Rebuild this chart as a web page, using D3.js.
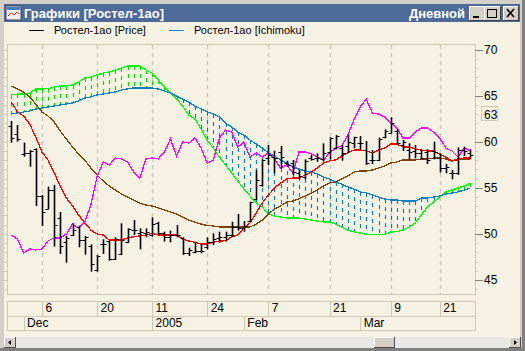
<!DOCTYPE html>
<html>
<head>
<meta charset="utf-8">
<script src="https://cdn.jsdelivr.net/npm/d3@7"></script>
<style>
html, body { margin: 0; padding: 0; background: #d4d0c8; overflow: hidden; }
text { font-family: "Liberation Sans", Arial, sans-serif; }
</style>
</head>
<body>
<div id="chart"></div>
<script>
const opens = [61.70,60.80,58.63,58.81,59.17,54.11,52.67,54.76,51.69,49.16,49.88,50.79,49.34,48.69,46.09,48.91,49.27,47.28,47.82,49.16,
  50.42,50.06,50.06,49.88,51.14,50.06,49.70,49.88,49.52,47.96,48.07,48.14,48.61,49.16,49.52,49.63,49.88,50.78,50.60,
  51.40,53.75,55.30,58.19,58.37,58.92,57.65,57.72,56.57,56.20,58.19,58.19,58.08,58.92,59.28,59.28,59.53,59.89,59.82,
  59.10,58.02,58.02,60.48,60.91,61.20,59.65,59.10,59.03,58.81,58.92,58.99,58.20,57.11,56.65,56.57,59.10,58.74];
const highs = [62.25,61.81,59.90,59.10,59.28,54.22,55.13,55.31,52.38,49.78,51.15,50.90,49.78,48.87,47.72,49.41,49.27,49.63,51.15,50.61,
  51.50,50.60,50.60,51.79,51.32,50.24,50.35,50.96,49.63,48.50,49.16,48.90,49.63,50.06,50.24,50.24,51.32,52.16,51.40,
  53.49,56.93,58.08,59.64,59.02,59.53,57.94,58.01,56.93,58.08,58.55,58.74,59.82,60.47,60.72,59.64,60.72,60.54,60.61,
  60.08,59.10,60.44,61.34,62.65,61.34,60.19,59.83,59.65,59.18,59.18,60.01,58.74,57.58,56.93,59.39,59.46,59.18];
const lows = [59.90,60.01,58.38,57.29,53.03,50.86,52.67,48.62,47.82,46.88,49.78,48.55,47.75,45.91,45.91,47.82,47.10,47.17,47.71,49.05,
  49.88,48.32,49.63,49.70,49.88,49.16,49.08,49.63,47.71,47.60,47.89,47.89,48.32,48.79,49.05,49.16,49.70,50.35,50.24,
  51.32,53.67,55.12,57.47,56.57,57.11,57.29,56.38,55.92,55.92,57.94,57.83,57.83,58.08,59.17,57.94,58.81,59.28,59.10,
  57.48,57.58,57.91,60.37,60.91,59.65,58.99,58.09,58.20,58.02,57.58,58.09,56.65,56.57,55.92,56.39,58.45,58.09];
const closes = [60.37,60.26,58.81,58.99,54.11,52.41,54.76,50.97,48.69,49.52,50.43,49.34,49.70,46.70,47.61,48.91,47.24,49.45,49.34,50.50,
  50.42,50.24,50.24,51.07,50.06,49.70,49.88,49.88,47.96,48.25,48.14,48.14,49.16,49.41,49.70,49.88,50.71,50.60,50.85,
  53.49,55.84,58.01,58.55,58.19,58.37,57.47,56.75,56.28,57.94,58.08,58.19,58.74,60.36,60.61,58.74,60.00,60.47,59.82,
  57.66,58.02,60.26,61.16,62.00,59.83,60.00,58.92,58.81,58.20,58.02,58.92,57.11,57.22,56.57,59.10,59.03,58.56];

const redLine = [64.31,63.22,62.79,61.92,60.51,58.88,58.02,56.61,55.20,53.90,53.03,52.05,51.18,50.42,49.99,49.88,49.34,49.34,49.34,49.56,
  49.70,49.77,49.88,50.07,49.88,49.88,49.88,49.88,49.45,49.23,49.09,48.90,48.90,49.09,49.23,49.26,49.70,49.88,50.64,
  51.18,52.27,53.35,54.22,54.98,55.52,55.96,56.06,56.06,56.39,56.71,57.15,57.69,57.91,58.02,58.45,58.78,59.10,59.10,
  59.00,58.78,59.10,59.32,59.75,59.75,59.43,59.43,59.21,59.10,59.00,59.00,58.67,58.34,57.91,58.13,58.23,58.23];
const brownLine = [66.04,65.72,65.39,64.85,64.09,63.22,62.79,62.14,61.16,60.29,59.43,58.67,58.02,57.15,56.39,55.74,55.20,54.76,54.33,54.00,
  53.68,53.35,53.13,53.03,52.81,52.59,52.38,52.16,51.83,51.51,51.29,51.07,50.91,50.86,50.75,50.75,50.75,50.75,50.75,
  50.75,51.07,51.51,52.16,52.70,53.03,53.46,53.57,53.79,54.11,54.44,54.76,55.20,55.52,55.63,55.96,56.28,56.71,56.82,
  56.82,56.93,57.15,57.37,57.69,57.80,58.02,58.02,58.02,58.13,58.13,58.23,58.23,58.13,57.91,58.02,58.13,58.13];
const magentaLine = [49.88,49.45,47.93,48.36,48.26,48.36,49.23,49.56,49.56,49.99,51.07,50.64,51.29,53.14,56.17,57.80,57.47,58.23,58.13,57.80,
  56.71,56.06,58.13,58.23,58.13,58.88,60.29,58.45,59.97,59.86,60.40,59.32,57.69,58.02,60.40,61.27,61.05,59.43,59.97,
  58.34,58.78,58.34,58.78,58.13,57.15,57.47,56.61,58.88,58.88,58.67,58.34,58.02,58.78,59.32,59.54,60.73,62.36,63.77,
  64.63,63.11,63.00,62.68,62.03,61.49,60.40,60.40,61.05,61.49,61.49,61.05,60.40,59.32,59.00,58.34,59.32,59.00];
const spanA = [65.07,65.17,65.17,65.28,65.72,65.72,65.75,65.93,66.04,66.04,66.15,66.48,66.91,67.02,67.24,67.45,67.56,67.78,68.00,68.21,
  68.21,68.21,67.78,67.45,66.69,65.93,65.28,64.63,63.87,62.90,62.46,61.38,60.19,59.32,58.34,57.47,56.61,55.74,54.87,
  54.11,53.35,52.92,52.16,51.94,51.83,51.73,51.73,51.73,51.62,51.51,51.40,51.29,51.29,51.07,50.75,50.42,50.21,50.10,
  49.94,49.94,49.94,49.94,50.21,50.24,50.42,50.75,51.18,52.05,52.92,53.46,54.00,54.55,54.76,54.98,55.20,55.52];
const spanB = [63.01,63.11,63.22,63.33,63.55,63.66,63.77,63.87,63.98,64.09,64.20,64.42,64.74,64.85,65.07,65.17,65.28,65.39,65.61,65.72,
  65.83,65.83,65.83,65.83,65.72,65.50,65.28,64.96,64.63,64.31,63.87,63.55,63.22,63.01,62.68,62.03,61.60,61.05,60.73,
  60.19,59.75,59.32,58.78,58.45,58.02,57.69,57.26,57.04,56.82,56.71,56.50,56.17,55.96,55.63,55.41,55.09,54.87,54.55,
  54.44,54.22,54.00,53.79,53.68,53.68,53.57,53.57,53.57,53.90,53.90,54.00,54.11,54.33,54.44,54.55,54.76,54.98];

const priceTicks = [45, 50, 55, 60, 65, 70];
const minorTicks = d3.range(44, 71);
const lastPrice = 63;
const dayTicks = [5, 14, 23, 32, 42, 52, 62, 70];
const dayLabels = ["6", "20", "11", "24", "7", "21", "9", "21"];
const monthStarts = [2, 23, 38, 57];
const monthLabels = ["Dec", "2005", "Feb", "Mar"];
const legendNames = ["Ростел-1ао [Price]", "Ростел-1ао [Ichimoku]"];

const width = 525, height = 351;
const paper = "#f5f2e4", rule = "#cdc9b4", grid = "#c8c5b8";
const plotLeft = 7, plotRight = 475, plotTop = 44, plotBottom = 294;

const svg = d3.select("#chart").append("svg")
  .attr("width", width).attr("height", height)
  .style("display", "block");

const xScale = d3.scaleLinear().domain([0, 75]).range([11.3, 470.3]);
const yScale = d3.scaleLinear().domain([45, 70]).range([280, 49.5]);
const px = v => Math.round(v) + 0.5;

// window frame
svg.append("rect").attr("width", width).attr("height", height).attr("fill", "#d4d0c8");
svg.append("rect").attr("x", 4).attr("y", 4).attr("width", 516).attr("height", 343).attr("fill", paper);
svg.append("rect").attr("x", 0).attr("y", 348).attr("width", width).attr("height", 3).attr("fill", "#808080");
svg.append("rect").attr("x", 522).attr("y", 0).attr("width", 3).attr("height", height).attr("fill", "#808080");
svg.append("rect").attr("x", 4).attr("y", 4).attr("width", 516).attr("height", 18).attr("fill", "#4d6a98");
svg.append("text").attr("x", 24).attr("y", 18).attr("fill", "#fff").attr("font-weight", "bold")
  .attr("font-size", 13).text("Графики [Ростел-1ао]");
svg.append("text").attr("x", 465).attr("y", 18).attr("fill", "#fff").attr("font-weight", "bold")
  .attr("font-size", 13).attr("text-anchor", "end").text("Дневной");

// title icon
const icon = svg.append("g").attr("transform", "translate(6,6)");
icon.append("rect").attr("width", 15).attr("height", 14).attr("fill", "#f0f0f0").attr("stroke", "#404060");
icon.append("rect").attr("x", 1).attr("y", 1).attr("width", 13).attr("height", 3).attr("fill", "#4080c0");
icon.append("path").attr("d", "M2,10L5,7L8,9L11,6L13,8").attr("fill", "none").attr("stroke", "#e03020");

// window buttons
[469, 484, 503].forEach((bx, k) => {
  const b = svg.append("g").attr("transform", `translate(${bx},6)`).attr("shape-rendering", "crispEdges");
  const w = k === 1 ? 16 : 15;
  b.append("rect").attr("width", w).attr("height", 14).attr("fill", "#d4d0c8");
  b.append("path").attr("d", `M0,14V0H${w}`).attr("fill", "none").attr("stroke", "#fff");
  b.append("path").attr("d", `M0,14H${w}V0`).attr("fill", "none").attr("stroke", "#404040");
  if (k === 0) b.append("rect").attr("x", 4).attr("y", 10).attr("width", 6).attr("height", 2).attr("fill", "#000");
  if (k === 1) b.append("rect").attr("x", 3.5).attr("y", 3.5).attr("width", 9).attr("height", 8).attr("fill", "none").attr("stroke", "#000");
  if (k === 2) b.append("path").attr("d", "M4,3L11,11M11,3L4,11").attr("stroke", "#000").attr("stroke-width", 1.6).attr("shape-rendering", "auto");
});

// legend
const legendX = [29, 169];
const legendColors = ["#000", "#2080c0"];
legendNames.forEach((name, k) => {
  svg.append("line").attr("x1", legendX[k]).attr("x2", legendX[k] + 15).attr("y1", 30.5).attr("y2", 30.5)
    .attr("stroke", legendColors[k]);
  svg.append("text").attr("x", legendX[k] + 25).attr("y", 34).attr("font-size", 11).attr("fill", "#000").text(name);
});

// plot box
svg.append("rect").attr("x", plotLeft + 0.5).attr("y", plotTop + 0.5)
  .attr("width", plotRight - plotLeft).attr("height", plotBottom - plotTop)
  .attr("fill", paper).attr("stroke", rule);

// vertical dashed grid
svg.append("g").selectAll("line").data(dayTicks).enter().append("line")
  .attr("x1", d => px(xScale(d))).attr("x2", d => px(xScale(d)))
  .attr("y1", plotTop + 1).attr("y2", plotBottom)
  .attr("stroke", grid).attr("stroke-width", 1.3).attr("stroke-dasharray", "4,4");

// y axes
const minorRight = svg.append("g").attr("transform", `translate(${plotRight},0)`)
  .call(d3.axisRight(yScale).tickValues(minorTicks).tickSize(3).tickFormat(""));
const majorRight = svg.append("g").attr("transform", `translate(${plotRight},0)`)
  .call(d3.axisRight(yScale).tickValues(priceTicks).tickSize(8).tickPadding(1));
majorRight.selectAll("text").attr("font-size", 12).attr("fill", "#000").style("font-family", "Liberation Sans");
const minorLeft = svg.append("g").attr("transform", `translate(${plotLeft},0)`)
  .call(d3.axisLeft(yScale).tickValues(minorTicks).tickSize(3).tickFormat(""));
[minorRight, majorRight, minorLeft].forEach(a => {
  a.select(".domain").remove();
  a.selectAll("line").attr("stroke", rule).attr("shape-rendering", "crispEdges");
});
majorRight.selectAll("line").attr("stroke", "#808080");

// last price box
svg.append("rect").attr("x", 481.5).attr("y", Math.round(yScale(lastPrice)) - 7.5)
  .attr("width", 16).attr("height", 14).attr("fill", paper).attr("stroke", rule);
svg.append("text").attr("x", 484).attr("y", yScale(lastPrice) + 4.5).attr("font-size", 12).text(lastPrice);

// cloud hatching
const hatch = svg.append("g");
hatch.selectAll("line").data(d3.range(spanA.length)).enter().append("line")
  .attr("x1", i => px(xScale(i))).attr("x2", i => px(xScale(i)))
  .attr("y1", i => yScale(Math.max(spanA[i], spanB[i])))
  .attr("y2", i => yScale(Math.min(spanA[i], spanB[i])))
  .attr("stroke", i => spanA[i] > spanB[i] ? "#00e000" : "#0a80c0")
  .attr("stroke-width", 1.2)
  .attr("stroke-dasharray", "4,4");

// indicator lines
const lineGen = d3.line().x((d, i) => xScale(i)).y(d => yScale(d));
const series = [
  [spanA, "#00ff00"], [spanB, "#0a80c0"], [brownLine, "#804000"], [redLine, "#ff0000"], [magentaLine, "#ff00ff"]
];
series.forEach(([vals, color]) => {
  svg.append("path").attr("d", lineGen(vals)).attr("fill", "none")
    .attr("stroke", color).attr("stroke-width", 1.3).attr("shape-rendering", "crispEdges");
});

// OHLC bars
const bars = svg.append("g").attr("stroke", "#000");
d3.range(opens.length).forEach(i => {
  const x = px(xScale(i));
  bars.append("line").attr("x1", x).attr("x2", x)
    .attr("y1", yScale(highs[i])).attr("y2", yScale(lows[i])).attr("stroke-width", 1.6);
  bars.append("line").attr("x1", x - 3).attr("x2", x)
    .attr("y1", px(yScale(opens[i]))).attr("y2", px(yScale(opens[i])));
  bars.append("line").attr("x1", x).attr("x2", x + 3)
    .attr("y1", px(yScale(closes[i]))).attr("y2", px(yScale(closes[i])));
});

// date axis rows
const dateRows = svg.append("g").attr("fill", "none").attr("stroke", rule).attr("shape-rendering", "crispEdges");
dateRows.append("rect").attr("x", plotLeft + 0.5).attr("y", 301.5).attr("width", plotRight - plotLeft).attr("height", 15);
dateRows.append("rect").attr("x", plotLeft + 0.5).attr("y", 316.5).attr("width", plotRight - plotLeft).attr("height", 14);

const dayAxis = svg.append("g").attr("transform", "translate(0,301)")
  .call(d3.axisBottom(xScale).tickValues(dayTicks).tickSize(15).tickPadding(-13)
    .tickFormat((d, i) => dayLabels[i]));
dayAxis.select(".domain").remove();
dayAxis.selectAll("line").attr("stroke", rule).attr("shape-rendering", "crispEdges");
dayAxis.selectAll("text").attr("text-anchor", "start").attr("dx", 3).attr("font-size", 12).attr("fill", "#000")
  .style("font-family", "Liberation Sans");

const monthAxis = svg.append("g").attr("transform", "translate(0,316)")
  .call(d3.axisBottom(xScale).tickValues(monthStarts).tickSize(15).tickPadding(-13)
    .tickFormat((d, i) => monthLabels[i]));
monthAxis.select(".domain").remove();
monthAxis.selectAll("line").attr("stroke", rule).attr("shape-rendering", "crispEdges");
monthAxis.selectAll("text").attr("text-anchor", "start").attr("dx", 3).attr("font-size", 12).attr("fill", "#000")
  .style("font-family", "Liberation Sans");

// scrollbar
svg.append("rect").attr("x", 4).attr("y", 337).attr("width", 516).attr("height", 11).attr("fill", "#e8e8e6");
[[4, 11], [374, 20], [509, 11]].forEach(([bx, w]) => {
  const b = svg.append("g").attr("transform", `translate(${bx},337)`).attr("shape-rendering", "crispEdges");
  b.append("rect").attr("width", w).attr("height", 10).attr("fill", "#d4d0c8");
  b.append("path").attr("d", `M0.5,10V0.5H${w}`).attr("fill", "none").attr("stroke", "#fff");
  b.append("path").attr("d", `M0,10.5H${w}.5V0`).attr("fill", "none").attr("stroke", "#505050");
});
svg.append("path").attr("d", "M11,340L8,342.5L11,345Z").attr("fill", "#000");
svg.append("path").attr("d", "M514,340L517,342.5L514,345Z").attr("fill", "#000");
</script>
</body>
</html>
